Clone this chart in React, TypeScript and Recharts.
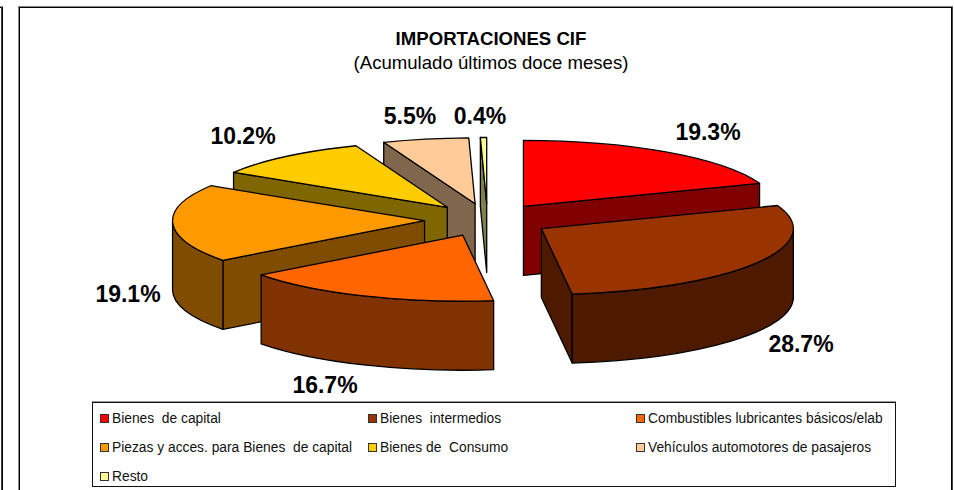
import { PieChart, Pie, Legend, Customized } from 'recharts'

const CATEGORIES = [
  'Bienes  de capital',
  'Bienes  intermedios',
  'Combustibles lubricantes básicos/elab',
  'Piezas y acces. para Bienes  de capital',
  'Bienes de  Consumo',
  'Vehículos automotores de pasajeros',
  'Resto',
]
const VALUES = [19.3, 28.7, 16.7, 19.1, 10.2, 5.5, 0.4]
const COLORS = ['#ff0000', '#993300', '#ff6600', '#ff9900', '#ffcc00', '#ffcc99', '#ffff99']
const SIDE_COLORS = ['#800000', '#4d1a00', '#803300', '#804d00', '#806600', '#80664d', '#80804d']

// back-to-front paint order, the pie is tilted so this can't follow data order
const PAINT_ORDER = [5, 6, 4, 3, 2, 0, 1]

// label centres, they were placed by hand in the original
const LABEL_POS = [
  [708, 132], [801, 344], [325, 385], [128, 294], [243, 136], [410, 116], [480, 116],
]

const W = 954
const H = 490
const FONT = "'Liberation Sans', Arial, sans-serif"
const CX = 487.5
const CY = 220
const RX = 252
const TILT = 0.262
const DEPTH = 69
const EXPLODE = 0.25

const chartData = CATEGORIES.map((name, i) => ({ name, value: VALUES[i], idx: i }))

const rad = (d: number) => (d * Math.PI) / 180

function TiltedSlice(props: any) {
  const { cx, cy, outerRadius: r, startAngle, endAngle, idx, layer } = props
  if (idx !== layer) return null
  // recharts angles -> clockwise from 12 o'clock
  const a0 = 90 - startAngle
  const a1 = 90 - endAngle
  const mid = (a0 + a1) / 2
  const ry = r * TILT
  const ox = cx + EXPLODE * r * Math.sin(rad(mid))
  const oy = cy - EXPLODE * ry * Math.cos(rad(mid))
  const at = (a: number, dz = 0): [number, number] => [
    ox + r * Math.sin(rad(a)),
    oy - ry * Math.cos(rad(a)) + dz,
  ]
  const arc = (a: number, b: number, dz: number, sweep: number) => {
    const [x, y] = at(b, dz)
    return `A${r} ${ry} 0 ${Math.abs(b - a) > 180 ? 1 : 0} ${sweep} ${x} ${y}`
  }
  const side = SIDE_COLORS[idx]
  const common = { stroke: '#000', strokeWidth: 1.3, strokeLinejoin: 'round' as const }
  const radial = (a: number) => {
    const [x, y] = at(a)
    return `M${ox} ${oy}L${x} ${y}L${x} ${y + DEPTH}L${ox} ${oy + DEPTH}Z`
  }
  const rimFrom = Math.max(a0, 90)
  const rimTo = Math.min(a1, 270)
  const s = at(a0)
  return (
    <g>
      {Math.sin(rad(a0)) < 0 && <path d={radial(a0)} fill={side} {...common} />}
      {Math.sin(rad(a1)) > 0 && <path d={radial(a1)} fill={side} {...common} />}
      {rimTo > rimFrom && (
        <path
          d={`M${at(rimFrom).join(' ')}${arc(rimFrom, rimTo, 0, 1)}L${at(rimTo, DEPTH).join(' ')}${arc(rimTo, rimFrom, DEPTH, 0)}Z`}
          fill={side}
          {...common}
        />
      )}
      <path d={`M${ox} ${oy}L${s[0]} ${s[1]}${arc(a0, a1, 0, 1)}Z`} fill={COLORS[idx]} {...common} />
    </g>
  )
}

function ValueLabel(props: any) {
  const { idx, layer, value } = props
  if (idx !== layer) return null
  const [x, y] = LABEL_POS[idx]
  return (
    <text x={x} y={y} textAnchor="middle" dominantBaseline="central"
      style={{ fontFamily: FONT, fontSize: 23, fontWeight: 700, fill: '#000' }}>
      {value.toFixed(1)}%
    </text>
  )
}

function BoxLegend() {
  return (
    <div style={{
      width: 804, height: 85, boxSizing: 'border-box', border: '1px solid #111', background: '#fff',
      boxShadow: '0 -1px 0 #999', position: 'relative', fontFamily: FONT, fontSize: 13.8, color: '#111',
    }}>
      {CATEGORIES.map((c, i) => (
        <div key={c} style={{
          position: 'absolute',
          left: 7 + (i % 3) * 268,
          top: 5 + Math.floor(i / 3) * 29,
          height: 20, display: 'flex', alignItems: 'center', whiteSpace: 'pre',
        }}>
          <span style={{
            width: 7, height: 7, border: '1.5px solid #333', background: COLORS[i], marginRight: 3,
          }} />
          {c}
        </div>
      ))}
    </div>
  )
}

function Title() {
  return (
    <g style={{ fontFamily: FONT, fontSize: 18.6, fill: '#000' }}>
      <text x={491} y={45} textAnchor="middle" fontWeight={700}>IMPORTACIONES CIF</text>
      <text x={491} y={69} textAnchor="middle">(Acumulado últimos doce meses)</text>
    </g>
  )
}

const lineStyle = (s: object) => ({ position: 'absolute' as const, background: '#000', ...s })

export default function App() {
  return (
    <div style={{ position: 'absolute', left: 0, top: 0, width: W, height: H, overflow: 'hidden', background: '#fff' }}>
      {/* neighbouring chart's edge, then this chart's frame */}
      <div style={lineStyle({ left: 0, top: 6, width: 3, height: 1, background: '#888' })} />
      <div style={lineStyle({ left: 0, top: 7, width: 3, height: 1 })} />
      <div style={lineStyle({ left: 1, top: 7, width: 1, height: H, background: '#444' })} />
      <div style={lineStyle({ left: 2, top: 7, width: 1, height: H })} />
      <div style={lineStyle({ left: 18, top: 6, width: 935, height: 1, background: '#888' })} />
      <div style={lineStyle({ left: 18, top: 7, width: 935, height: 1 })} />
      <div style={lineStyle({ left: 18, top: 7, width: 1, height: H, background: '#888' })} />
      <div style={lineStyle({ left: 19, top: 7, width: 1, height: H })} />
      <div style={lineStyle({ left: 951, top: 7, width: 1, height: H })} />
      <div style={lineStyle({ left: 952, top: 7, width: 1, height: H, background: '#444' })} />
      <PieChart width={W} height={H} margin={{ top: 0, right: 0, bottom: 0, left: 0 }} style={{ position: 'absolute', left: 0, top: 0 }}>
        {PAINT_ORDER.map(layer => (
          <Pie
            key={layer}
            data={chartData}
            dataKey="value"
            nameKey="name"
            cx={CX}
            cy={CY}
            innerRadius={0}
            outerRadius={RX}
            startAngle={90}
            endAngle={-270}
            stroke="none"
            isAnimationActive={false}
            labelLine={false}
            label={(p: any) => <ValueLabel {...p} layer={layer} />}
            shape={(p: any) => <TiltedSlice {...p} layer={layer} />}
          />
        ))}
        <Customized component={Title} />
        <Legend
          content={<BoxLegend />}
          wrapperStyle={{ position: 'absolute', left: 92, top: 402, width: 804, height: 85, bottom: 'auto' }}
        />
      </PieChart>
    </div>
  )
}
